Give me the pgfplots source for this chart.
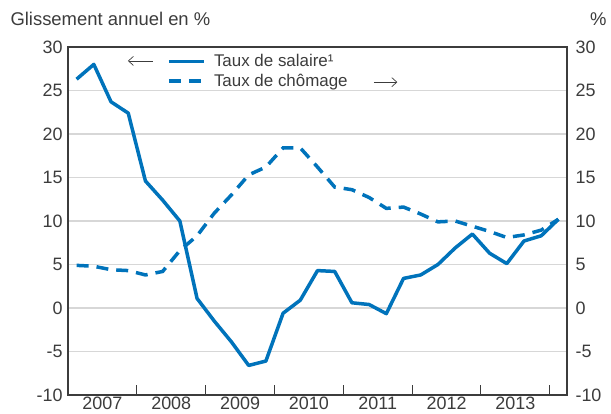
\documentclass[border=0pt]{standalone}
\usepackage{pgfplots}
\pgfplotsset{compat=1.18}
\usepackage{pgfplotstable}
\usetikzlibrary{arrows.meta}
\usepackage{fontspec}
\setmainfont{Liberation Sans}
\definecolor{cblue}{RGB}{0,115,187}
\definecolor{gridc}{RGB}{215,215,215}
\definecolor{framec}{RGB}{60,60,60}
\pgfplotstableread{
x w u
2007.125 26.3 4.9
2007.375 28.0 4.8
2007.625 23.7 4.4
2007.875 22.4 4.3
2008.125 14.6 3.8
2008.375 12.4 4.2
2008.625 10.0 6.6
2008.875 1.1 8.3
2009.125 -1.5 10.9
2009.375 -3.9 13.0
2009.625 -6.6 15.3
2009.875 -6.1 16.2
2010.125 -0.6 18.4
2010.375 0.9 18.4
2010.625 4.3 16.2
2010.875 4.2 13.9
2011.125 0.6 13.6
2011.375 0.4 12.7
2011.625 -0.65 11.45
2011.875 3.4 11.6
2012.125 3.8 10.8
2012.375 5.0 9.9
2012.625 6.9 10.0
2012.875 8.5 9.4
2013.125 6.3 8.8
2013.375 5.1 8.1
2013.625 7.7 8.4
2013.875 8.3 8.95
2014.125 10.2 10.2
}\datatab
\begin{document}
\begin{tikzpicture}
\pgfplotsset{
  common/.style={
    scale only axis, width=499bp, height=348bp,
    xmin=2007, xmax=2014.25, ymin=-10, ymax=30,
    ytick={-10,-5,...,30},
    /pgf/number format/assume math mode=true,
    ticklabel style={font=\fontsize{18}{21}\selectfont, text=framec},
    axis line style={framec, line width=1.1bp},
  }
}
\begin{axis}[common, name=main,
  ymajorgrids, grid style={gridc, line width=1.3bp},
  xtick={2007,...,2014}, xticklabels={},
  minor x tick num=3,
  extra x ticks={2007.5,2008.5,2009.5,2010.5,2011.5,2012.5,2013.5},
  extra x tick labels={2007,2008,2009,2010,2011,2012,2013},
  extra x tick style={major tick length=0pt, xticklabel style={yshift=2bp}},
  xtick pos=bottom, ytick pos=left, tick align=inside,
  x tick style={framec, line width=0.9bp},
  y tick style={draw=none},
  major tick length=10bp, minor tick length=5bp,
  yticklabel style={xshift=-2bp},
  legend style={at={(axis description cs:0.198,0.985)}, anchor=north west,
    draw=none, fill=none, inner sep=0pt,
    font=\fontsize{17}{20}\selectfont, text=framec,
    row sep=2bp,
    nodes={inner xsep=8.5bp}},
  legend image code/.code={\draw[#1] (0bp,0bp) -- (35bp,0bp);},
  legend cell align=left,
]
\addplot[cblue, line width=3.5bp, line join=round] table[x=x, y=w] {\datatab};
\addlegendentry{Taux de salaire¹}
\addplot[cblue, line width=3.5bp, dash pattern=on 12bp off 8bp] table[x=x, y=u] {\datatab};
\addlegendentry{Taux de chômage}
\draw[framec, line width=0.7bp, -{Straight Barb[length=5bp,width=9bp]}]
  (axis description cs:0.170,0.96) -- (axis description cs:0.120,0.96);
\draw[framec, line width=0.7bp, -{Straight Barb[length=5bp,width=9bp]}]
  (axis description cs:0.613,0.899) -- (axis description cs:0.660,0.899);
\end{axis}
\begin{axis}[common,
  axis x line=none, axis y line*=right,
  ytick pos=right, y tick style={draw=none},
  yticklabel style={xshift=5bp},
]
\end{axis}
\node[anchor=west, font=\fontsize{18.5}{21}\selectfont, text=framec]
  at ([xshift=-61bp, yshift=28bp]main.north west) {Glissement annuel en \%};
\node[anchor=east, font=\fontsize{18.5}{21}\selectfont, text=framec]
  at ([xshift=43bp, yshift=28bp]main.north east) {\%};
\pgfresetboundingbox
\path ([xshift=-68bp,yshift=-19bp]main.south west) rectangle ([xshift=44bp,yshift=47bp]main.north east);
\end{tikzpicture}
\end{document}
